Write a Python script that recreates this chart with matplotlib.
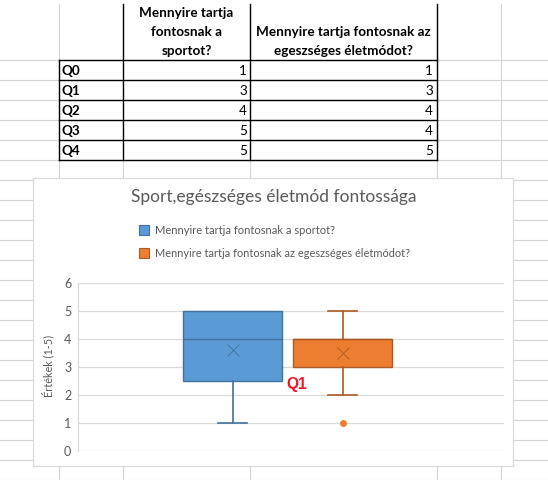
import matplotlib
matplotlib.use("Agg")
import matplotlib.pyplot as plt
from matplotlib.patches import Rectangle

# ---------------- data ----------------
row_labels = ["Q0", "Q1", "Q2", "Q3", "Q4"]
header_sport = ["Mennyire tartja", "fontosnak a", "sportot?"]
header_health = ["Mennyire tartja fontosnak az", "egeszséges életmódot?"]
sport_values = [1, 3, 4, 5, 5]
health_values = [1, 3, 4, 4, 5]

chart_title = "Sport,egészséges életmód fontossága"
series_names = ["Mennyire tartja fontosnak a sportot?",
                "Mennyire tartja fontosnak az egeszséges életmódot?"]
y_label = "Értékek (1-5)"
y_ticks = [0, 1, 2, 3, 4, 5, 6]

# box statistics
sport_box = dict(whislo=1, q1=2.5, med=4, q3=5, whishi=5, mean=3.6, fliers=[])
health_box = dict(whislo=2, q1=3, med=4, q3=4, whishi=5, mean=3.5, fliers=[1])
annotation = "Q1"

face_colors = ["#5B9BD5", "#ED7D31"]
edge_colors = ["#41719C", "#AE5A21"]
GRID = "#D4D4D4"
TXT = "#595959"

W, H = 548, 480
fig = plt.figure(figsize=(W / 100, H / 100), dpi=100)
fig.patch.set_facecolor("white")
renderer = fig.canvas.get_renderer()

bg = fig.add_axes([0, 0, 1, 1])
bg.set_xlim(0, W)
bg.set_ylim(H, 0)
bg.axis("off")

def fit(t, target, dim="w"):
    bb = t.get_window_extent(renderer)
    cur = bb.width if dim == "w" else bb.height
    t.set_fontsize(t.get_fontsize() * target / cur)

# ---------------- spreadsheet grid ----------------
col_x = [59, 123, 250, 436.5, 500.5]
row_y = [59.5 + 20 * k for k in range(22)]
for x in col_x:
    bg.plot([x, x], [4, H], color=GRID, lw=0.8, zorder=1)
for y in row_y:
    bg.plot([0, W], [y, y], color=GRID, lw=0.8, zorder=1)

# table borders
tb_rows = row_y[:6]
for y in tb_rows:
    bg.plot([59, 436.5], [y, y], color="black", lw=1.0, zorder=2)
bg.plot([59, 59], [tb_rows[0], tb_rows[-1]], color="black", lw=1.0, zorder=2)
for x in [123, 250, 436.5]:
    bg.plot([x, x], [4, tb_rows[-1]], color="black", lw=1.0, zorder=2)

CELLFONT = ["Lato", "DejaVu Sans"]
t = bg.text(343, 36, header_health[0], ha="center", va="baseline",
            fontsize=11, fontweight="bold", family=CELLFONT, color="black", zorder=3)
fit(t, 173)
fs_cell = t.get_fontsize()
bg.text(343, 55, header_health[1], ha="center", va="baseline",
        fontsize=fs_cell, fontweight="bold", family=CELLFONT, color="black", zorder=3)
for i, line in enumerate(header_sport):
    bg.text(186.5, 17 + 19 * i, line, ha="center", va="baseline",
            fontsize=fs_cell, fontweight="bold", family=CELLFONT, color="black", zorder=3)
for i, lab in enumerate(row_labels):
    yb = tb_rows[i + 1] - 4.5
    bg.text(61.5, yb, lab, ha="left", va="baseline", fontsize=fs_cell,
            fontweight="bold", family=CELLFONT, color="black", zorder=3)
    bg.text(247, yb, str(sport_values[i]), ha="right", va="baseline",
            fontsize=fs_cell, family=CELLFONT, color="black", zorder=3)
    bg.text(433, yb, str(health_values[i]), ha="right", va="baseline",
            fontsize=fs_cell, family=CELLFONT, color="black", zorder=3)

# ---------------- chart frame ----------------
bg.add_patch(Rectangle((33.3, 178.3), 480, 287.7, facecolor="white",
                       edgecolor="#D9D9D9", lw=0.9, zorder=4))

CHFONT = ["Lato", "DejaVu Sans"]
t = bg.text(273.3, 202.3, chart_title, ha="center", va="baseline", color=TXT,
            fontsize=13, family=CHFONT, zorder=5)
fit(t, 285)

# legend
leg_y = [230, 253]
leg_w = [180, 255]
for i in range(2):
    bg.add_patch(Rectangle((138.5, leg_y[i] - 5.5), 10.5, 10.5,
                           facecolor=face_colors[i], edgecolor=edge_colors[i],
                           lw=0.8, zorder=5))
    t = bg.text(155, leg_y[i] + 4.3, series_names[i], ha="left", va="baseline",
                color=TXT, fontsize=9, family=CHFONT, zorder=5)
    fit(t, leg_w[i])

# y label
t = bg.text(48, 366, y_label, ha="center", va="center", rotation=90,
            color=TXT, fontsize=9, family=CHFONT, zorder=5)
fit(t, 62, dim="h")

# ---------------- plot area ----------------
x0, x1, ytop, ybot = 78.3, 504.3, 282.7, 451.3
ax = fig.add_axes([x0 / W, 1 - ybot / H, (x1 - x0) / W, (ybot - ytop) / H])
ax.set_zorder(6)
ax.patch.set_alpha(0)
ax.set_ylim(0, 6)
ax.set_xlim(-0.402, 3.471)
ax.set_yticks(y_ticks)
ax.set_xticks([])
for yv in y_ticks:
    ax.axhline(yv, color="#D9D9D9", lw=0.9, zorder=0)
for s in ["top", "right", "bottom"]:
    ax.spines[s].set_visible(False)
ax.spines["left"].set_color("#D9D9D9")
ax.spines["left"].set_linewidth(0.9)
ax.tick_params(axis="y", length=0, pad=5, labelcolor=TXT, labelsize=9)
for lab in ax.get_yticklabels():
    lab.set_family(CHFONT)

stats = [dict(sport_box, label=""), dict(health_box, label="")]
bp = ax.bxp(stats, positions=[1, 2], widths=0.9, patch_artist=True,
            showmeans=True, capwidths=0.27, manage_ticks=False, zorder=3)
for i in range(2):
    ec = edge_colors[i]
    st = stats[i]
    bp["boxes"][i].set_facecolor(face_colors[i])
    bp["boxes"][i].set_edgecolor(ec)
    bp["boxes"][i].set_linewidth(1.0)
    bp["medians"][i].set_color(ec)
    bp["medians"][i].set_linewidth(1.0)
    for k in (2 * i, 2 * i + 1):
        bp["whiskers"][k].set_color(ec)
        bp["whiskers"][k].set_linewidth(1.2)
        bp["caps"][k].set_color(ec)
        bp["caps"][k].set_linewidth(1.2)
    # no cap where the whisker has zero length
    if st["whislo"] == st["q1"]:
        bp["caps"][2 * i].set_visible(False)
    if st["whishi"] == st["q3"]:
        bp["caps"][2 * i + 1].set_visible(False)
    bp["means"][i].set_marker("x")
    bp["means"][i].set_markeredgecolor(ec)
    bp["means"][i].set_markerfacecolor(ec)
    bp["means"][i].set_markersize(8)
    bp["means"][i].set_markeredgewidth(0.6)
    bp["fliers"][i].set_marker("o")
    bp["fliers"][i].set_markerfacecolor(face_colors[i])
    bp["fliers"][i].set_markeredgecolor(face_colors[i])
    bp["fliers"][i].set_markersize(4)

# red annotation
t = bg.text(297, 385, annotation, ha="center", va="center", color="#F01428",
            fontsize=12, fontweight="bold", family=["Liberation Sans", "DejaVu Sans"],
            zorder=7)
fit(t, 20.6)

fig.savefig("out.png", dpi=100)
